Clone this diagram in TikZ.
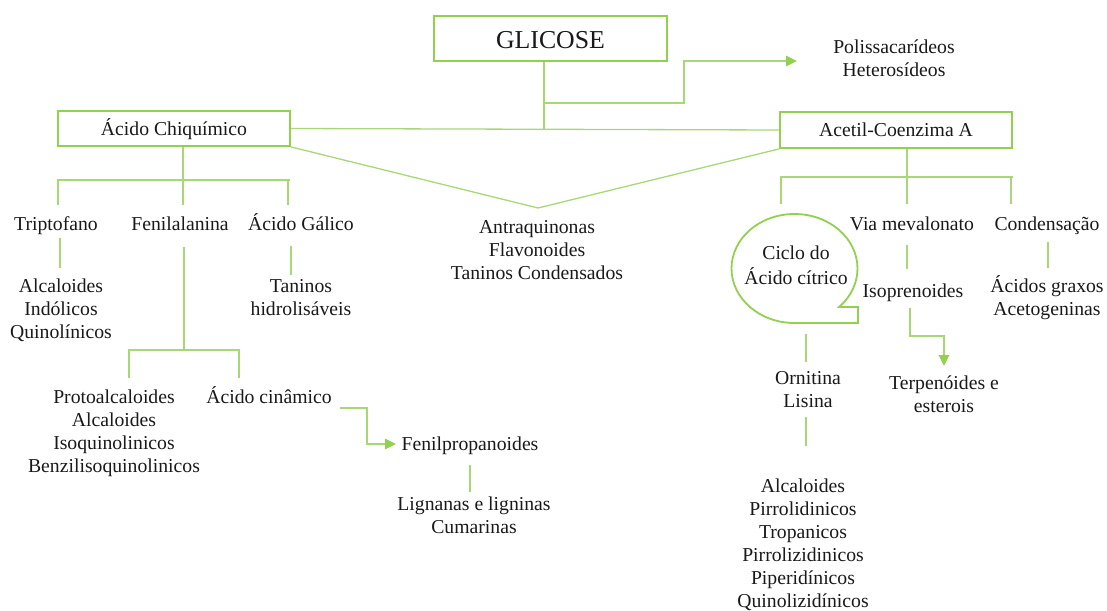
\documentclass[tikz,border=0pt]{standalone}
\usepackage{fontspec}
\setmainfont{Liberation Serif}
\usetikzlibrary{arrows.meta}
\definecolor{lg}{RGB}{146,208,80}
\definecolor{lgl}{RGB}{168,216,118}
\begin{document}
\begin{tikzpicture}[x=1pt,y=-1pt,
  txt/.style={align=center, inner sep=0pt, text=black!90, font=\fontsize{19.7}{23}\selectfont},
  box/.style={draw=lg, line width=1.8pt, inner sep=0pt, text=black!90, font=\fontsize{19.7}{23}\selectfont, text height=15pt, text depth=2pt},
  shp/.style={draw=lg, line width=1.8pt},
  con/.style={draw=lgl, line width=1.3pt},
  arr/.style={con, -{Triangle[length=11pt,width=10.5pt,fill=lg,color=lg]}}]
\useasboundingbox (0,0) rectangle (1107,610);

% boxes
\node[box, minimum width=233pt, minimum height=45pt, font=\fontsize{25.8}{30}\selectfont, text height=22pt, text depth=2pt] (glic) at (550.5,38.5) {GLICOSE};
\node[box, minimum width=232pt, minimum height=35pt] (chiq) at (174,128.5) {Ácido Chiquímico};
\node[box, minimum width=232pt, minimum height=36pt] (acet) at (896,130) {Acetil-Coenzima A};

% text nodes
\node[txt] (polis) at (894,60.4) {\strut Polissacarídeos\\\strut Heterosídeos};
\node[txt] (antra) at (537,251.9) {\strut Antraquinonas\\\strut Flavonoides\\\strut Taninos Condensados};
\node[txt] (tript) at (56,225.9) {\strut Triptofano};
\node[txt] (fenil) at (180,225.9) {\strut Fenilalanina};
\node[txt] (galico) at (301,225.9) {\strut Ácido Gálico};
\node[txt] (alcind) at (61,310.9) {\strut Alcaloides\\\strut Indólicos\\\strut Quinolínicos};
\node[txt] (taninos) at (301,299.4) {\strut Taninos\\\strut hidrolisáveis};
\node[txt] (proto) at (114,433.4) {\strut Protoalcaloides\\\strut Alcaloides\\\strut Isoquinolinicos\\\strut Benzilisoquinolinicos};
\node[txt] (cinam) at (269,398.9) {\strut Ácido cinâmico};
\node[txt] (fprop) at (470,445.9) {\strut Fenilpropanoides};
\node[txt] (lign) at (474,517.4) {\strut Lignanas e ligninas\\\strut Cumarinas};
\node[txt] (ciclo) at (796,267.4) {\strut Ciclo do\\\strut Ácido cítrico};
\node[txt] (ornit) at (808,391.4) {\strut Ornitina\\\strut Lisina};
\node[txt] (alcpir) at (803,545.4) {\strut Alcaloides\\\strut Pirrolidinicos\\\strut Tropanicos\\\strut Pirrolizidinicos\\\strut Piperidínicos\\\strut Quinolizidínicos};
\node[txt] (via) at (912,225.9) {\strut Via mevalonato};
\node[txt] (isop) at (913,292.9) {\strut Isoprenoides};
\node[txt] (terp) at (944,396.4) {\strut Terpenóides e\\\strut esterois};
\node[txt] (cond) at (1047,225.9) {\strut Condensação};
\node[txt] (acidos) at (1047,299.4) {\strut Ácidos graxos\\\strut Acetogeninas};

% ciclo shape
\draw[shp] (794.5,323) arc[start angle=-90, end angle=-405, x radius=63pt, y radius=54.5pt] -- (858,307) -- (858,323) -- cycle;

% glicose connections
\coordinate (j0) at (544,130);
\coordinate (j1) at (544,103);
\coordinate (b1) at (684,61);
\coordinate (pend) at (797,61);
\draw[con] (glic.south -| j0) -- (j0);
\draw[arr] (j1) -| (b1) -- (pend);
\draw[con] (chiq.east) -- (acet.west);
\coordinate (apex) at (538,208);
\draw[con] (chiq.south east) -- (apex) -- (acet.south west);

% left tree
\coordinate (jl) at (183,180);
\coordinate (dt) at (58,205);
\coordinate (dg) at (288,205);
\coordinate (df) at (183,205);
\draw[con] (chiq.south -| jl) -- (jl) -- (df);
\draw[con] (dt) |- (290,180);
\draw[con] (dg) -- (dg |- jl);
\coordinate (t1) at (60,238);
\coordinate (t2) at (60,268);
\draw[con] (t1) -- (t2);
\coordinate (g1) at (291,246);
\coordinate (g2) at (291,275);
\draw[con] (g1) -- (g2);
\coordinate (f1) at (184,247);
\coordinate (f2) at (184,350);
\coordinate (pl) at (129,378);
\coordinate (pr) at (239,378);
\draw[con] (f1) -- (f2);
\draw[con] (pl) |- (pr |- f2) -- (pr);
\coordinate (c1) at (340,408);
\coordinate (c2) at (367,444);
\coordinate (c3) at (396,444);
\draw[arr] (c1) -| (c2) -- (c3);
\coordinate (l1) at (470,465);
\coordinate (l2) at (470,492);
\draw[con] (l1) -- (l2);

% right tree
\coordinate (jr) at (907,177);
\coordinate (rc) at (781,204);
\coordinate (rv) at (907,204);
\coordinate (rk) at (1011,204);
\draw[con] (acet.south -| jr) -- (jr) -- (rv);
\draw[con] (rc) |- (1013,177);
\draw[con] (rk) -- (rk |- jr);
\coordinate (o1) at (806,334);
\coordinate (o2) at (806,362);
\draw[con] (o1) -- (o2);
\coordinate (o3) at (806,417);
\coordinate (o4) at (806,446);
\draw[con] (o3) -- (o4);
\coordinate (v1) at (907,245);
\coordinate (v2) at (907,269);
\draw[con] (v1) -- (v2);
\coordinate (i1) at (910,308);
\coordinate (i2) at (944,336);
\coordinate (i3) at (944,366);
\draw[arr] (i1) |- (i2) -- (i3);
\coordinate (k1) at (1048,242);
\coordinate (k2) at (1048,268);
\draw[con] (k1) -- (k2);
\end{tikzpicture}
\end{document}
